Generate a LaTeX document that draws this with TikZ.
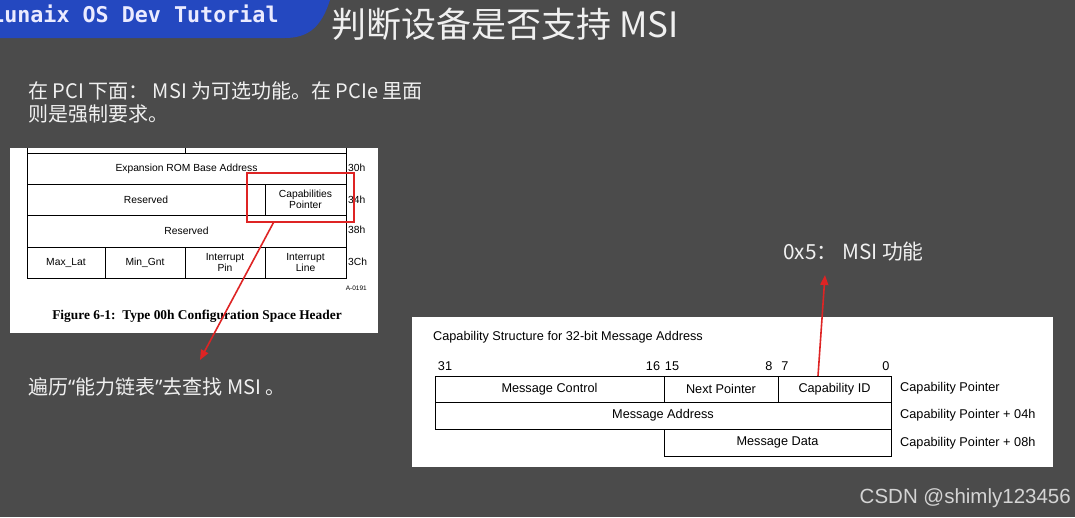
\documentclass[tikz,border=0pt]{standalone}
\usepackage{fontspec}
\setmainfont{Liberation Sans}
\newfontfamily\cjk{Noto Sans CJK SC}
\newfontfamily\qfont{Noto Sans}
\newfontfamily\monofam{DejaVu Sans Mono}
\newfontfamily\seriffam{Liberation Serif}
\usetikzlibrary{arrows.meta,calc}
\definecolor{bg}{RGB}{75,75,75}
\definecolor{banner}{RGB}{36,72,192}
\definecolor{redline}{RGB}{222,36,36}
\definecolor{wm}{RGB}{212,212,212}
\tikzset{
  cell/.style={draw=black, line width=0.9pt, inner sep=0pt, outer sep=0pt, align=center,
    font=\fontsize{10.3}{11}\selectfont},
  rcell/.style={draw=black, line width=0.9pt, inner sep=0pt, outer sep=0pt, align=center,
    font=\fontsize{12.7}{14}\selectfont},
  offs/.style={inner sep=0pt, font=\fontsize{10.3}{11}\selectfont},
  roffs/.style={inner sep=0pt, anchor=west, font=\fontsize{12.7}{14}\selectfont},
  bitn/.style={inner sep=0pt, font=\fontsize{12.7}{14}\selectfont},
  cjktext/.style={inner sep=0pt, text=white!94!black, font=\cjk\fontsize{20}{23}\selectfont},
  redarrow/.style={draw=redline, line width=1.6pt, -{Triangle[length=10pt,width=8pt]}},
}
\begin{document}
\begin{tikzpicture}[x=1pt,y=-1pt]
\useasboundingbox (0,0) rectangle (1075,517);
\fill[bg] (0,0) rectangle (1075,517);
% banner
\begin{scope}
\clip (0,0) -- (330,0) .. controls (322,25) and (310,38) .. (285,38) -- (0,38) -- cycle;
\fill[banner] (-5,-5) rectangle (340,45);
\node[inner sep=0pt, anchor=base west, text=white!92!blue, font=\monofam\bfseries\fontsize{21.7}{24}\selectfont] (bannertext) at (-9,22) {Lunaix OS Dev Tutorial};
\end{scope}
% title
\node[inner sep=0pt, text=white!94!black, font=\cjk\fontsize{35}{38}\selectfont] (title) at (505,24) {判断设备是否支持 MSI};
% intro text
\node[cjktext, anchor=west, align=left] (intro) at (28,102.5) {在 PCI 下面： MSI 为可选功能。在 PCIe 里面\\则是强制要求。};
% left panel
\fill[white] (10,148) rectangle (378,333);
\draw[line width=0.9pt] (27,148) -- (27,153) (185,148) -- (185,153) (346,148) -- (346,153);
\node[cell, minimum width=319pt, minimum height=31pt] (rom) at (186.5,168.5) {Expansion ROM Base Address};
\node[cell, minimum width=238pt, minimum height=31pt] (res1) at (146,199.5) {Reserved};
\node[cell, minimum width=81pt, minimum height=31pt] (capptr) at (305.5,199.5) {Capabilities\\Pointer};
\node[cell, minimum width=319pt, minimum height=32pt] (res2) at (186.5,231) {Reserved};
\node[cell, minimum width=78pt, minimum height=31pt] (maxlat) at (66,262.5) {Max\_Lat};
\node[cell, minimum width=80pt, minimum height=31pt] (mingnt) at (145,262.5) {Min\_Gnt};
\node[cell, minimum width=80pt, minimum height=31pt] (intpin) at (225,262.5) {Interrupt\\Pin};
\node[cell, minimum width=81pt, minimum height=31pt] (intline) at (305.5,262.5) {Interrupt\\Line};
\node[offs, anchor=west] (o30) at (348,168) {30h};
\node[offs, anchor=west] (o34) at (348,200) {34h};
\node[offs, anchor=west] (o38) at (348,230) {38h};
\node[offs, anchor=west] (o3c) at (348,262) {3Ch};
\node[inner sep=0pt, anchor=east, font=\fontsize{6.5}{7}\selectfont] (aid) at (367,288) {A-0191};
\node[inner sep=0pt, font=\seriffam\bfseries\fontsize{13.4}{15}\selectfont] (fig) at (197,316) {Figure 6-1:\ \ Type 00h Configuration Space Header};
% red box
\node[draw=redline, line width=1.6pt, inner sep=0pt, minimum width=107pt, minimum height=49pt] (redbox) at (300.5,197.5) {};
\coordinate (ltip) at (200,360);
\draw[redarrow] ($(redbox.south west)!0.25!(redbox.south east)$) -- (ltip);
\node[cjktext, anchor=west] (walk) at (28,387) {遍历{\qfont “}能力链表{\qfont ”}去查找 MSI 。};
% right panel
\fill[white] (412,317) rectangle (1053,467);
\node[inner sep=0pt, anchor=west, font=\fontsize{12.7}{14}\selectfont] (capcap) at (433,337) {Capability Structure for 32-bit Message Address};
\node[bitn] (b31) at (445,366) {31};
\node[bitn] (b16) at (653,366) {16};
\node[bitn] (b15) at (672,366) {15};
\node[bitn] (b8) at (769,366) {8};
\node[bitn] (b7) at (785,366) {7};
\node[bitn] (b0) at (886,366) {0};
\node[rcell, minimum width=229pt, minimum height=26pt] (mc) at (549.5,389) {Message Control};
\node[rcell, minimum width=114pt, minimum height=26pt] (np) at (721,389) {Next Pointer};
\node[rcell, minimum width=113pt, minimum height=26pt] (cid) at (834.5,389) {Capability ID};
\node[rcell, minimum width=456pt, minimum height=27pt] (ma) at (663,415.5) {Message Address};
\node[rcell, minimum width=227pt, minimum height=27pt] (md) at (777.5,442.5) {Message Data};
\node[roffs] (r0) at (900,388) {Capability Pointer};
\node[roffs] (r4) at (900,415) {Capability Pointer + 04h};
\node[roffs] (r8) at (900,443) {Capability Pointer + 08h};
% top arrow and label
\coordinate (ttip) at (825,275);
\draw[redarrow] ($(cid.north west)!0.354!(cid.north east)$) -- (ttip);
\node[cjktext, anchor=west, font=\cjk\fontsize{20.8}{23}\selectfont] (msi) at (783,252) {0x5： MSI 功能};
% watermark
\node[inner sep=0pt, anchor=east, text=wm, font=\fontsize{20.5}{22}\selectfont] (csdn) at (1071,498) {CSDN @shimly123456};
\end{tikzpicture}
\end{document}
